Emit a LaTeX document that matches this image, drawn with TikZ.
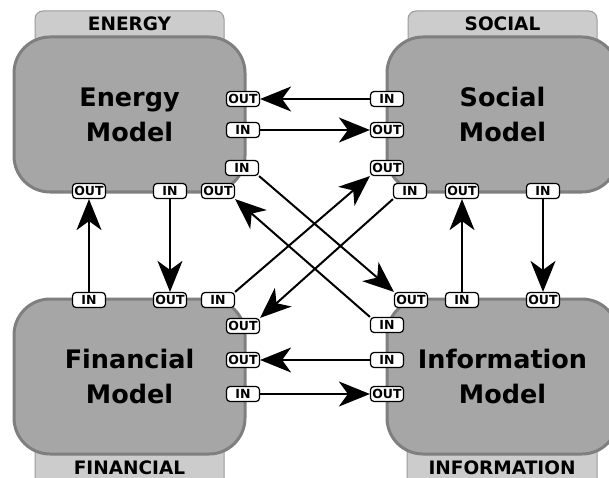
\documentclass[tikz,border=0pt]{standalone}
\usepackage{fontspec}
\setmainfont{DejaVu Sans}
\usetikzlibrary{arrows.meta,positioning}
\definecolor{modelgray}{HTML}{A6A6A6}
\definecolor{modelline}{HTML}{7F7F7F}
\definecolor{tabgray}{HTML}{CCCCCC}
\definecolor{tabline}{HTML}{9A9A9A}

\begin{document}
\begin{tikzpicture}[x=1pt, y=-1pt, >={Stealth[length=31pt,width=25pt,inset=9pt]},
  model/.style={draw=modelline, fill=modelgray, line width=3pt, rounded corners=36pt,
    minimum width=231pt, minimum height=155pt, align=center,
    font=\fontsize{25.5}{35}\selectfont\bfseries},
  tab/.style={draw=tabline, fill=tabgray, line width=1pt, rounded corners=8pt},
  tablbl/.style={font=\fontsize{18.5}{20}\selectfont\bfseries},
  port/.style={draw, fill=white, line width=1.2pt, rounded corners=3.5pt,
    minimum width=33pt, minimum height=15pt, inner sep=1pt,
    font=\fontsize{12.5}{13}\selectfont\bfseries},
  flow/.style={->, line width=2pt}]
\clip (0,0) rectangle (609,478);
\useasboundingbox (0,0) rectangle (609,478);
% tabs behind the models
\draw[tab] (35,11) rectangle (224,70);
\draw[tab] (408,11) rectangle (597,70);
\draw[tab] (35,400) rectangle (224,495);
\draw[tab] (407,400) rectangle (597,495);
\node[tablbl] (enTab) at (129.5,24) {ENERGY};
\node[tablbl] (soTab) at (502.5,24) {SOCIAL};
\node[tablbl] (fiTab) at (129.5,468) {FINANCIAL};
\node[tablbl] (inTab) at (502,468) {INFORMATION};
% models
\node[model] (energy) at (129.5,114.5) {Energy\\Model};
\node[model] (social) at (502.5,114.5) {Social\\Model};
\node[model] (financial) at (129.5,376.5) {Financial\\Model};
\node[model] (information) at (502.5,376.5) {Information\\Model};
% energy ports
\node[port] (enOut1) at (243,99) {OUT};
\node[port] (enIn1) at (243,130) {IN};
\node[port] (enIn2) at (242,168) {IN};
\node[port] (enOut2) at (218,191) {OUT};
\node[port] (enOut3) at (89,191) {OUT};
\node[port] (enIn3) at (170,191) {IN};
% social ports
\node[port] (soIn1) at (387,99) {IN};
\node[port] (soOut1) at (387,130) {OUT};
\node[port] (soOut2) at (387,168) {OUT};
\node[port] (soIn2) at (410,191) {IN};
\node[port] (soOut3) at (462,191) {OUT};
\node[port] (soIn3) at (543,191) {IN};
% financial ports
\node[port] (fiIn1) at (89,300) {IN};
\node[port] (fiOut1) at (170,300) {OUT};
\node[port] (fiIn2) at (218,300) {IN};
\node[port] (fiOut2) at (243,326) {OUT};
\node[port] (fiOut3) at (243,360) {OUT};
\node[port] (fiIn3) at (243,394) {IN};
% information ports
\node[port] (inOut1) at (411,300) {OUT};
\node[port] (inIn1) at (462,300) {IN};
\node[port] (inOut2) at (543,300) {OUT};
\node[port] (inIn2) at (387,325) {IN};
\node[port] (inIn3) at (387,360) {IN};
\node[port] (inOut3) at (387,394) {OUT};
% flows
\draw[flow] (soIn1) -- (enOut1);
\draw[flow] (enIn1) -- (soOut1);
\draw[flow] (enIn2.south east) -- (inOut1.north west);
\draw[flow] (inIn2.north west) -- (enOut2.south east);
\draw[flow] (fiIn2.north east) -- (soOut2.south west);
\draw[flow] (soIn2.south west) -- (fiOut2.north east);
\draw[flow] (inIn3) -- (fiOut3);
\draw[flow] (fiIn3) -- (inOut3);
\draw[flow] (fiIn1) -- (enOut3);
\draw[flow] (enIn3) -- (fiOut1);
\draw[flow] (inIn1) -- (soOut3);
\draw[flow] (soIn3) -- (inOut2);
\end{tikzpicture}
\end{document}
